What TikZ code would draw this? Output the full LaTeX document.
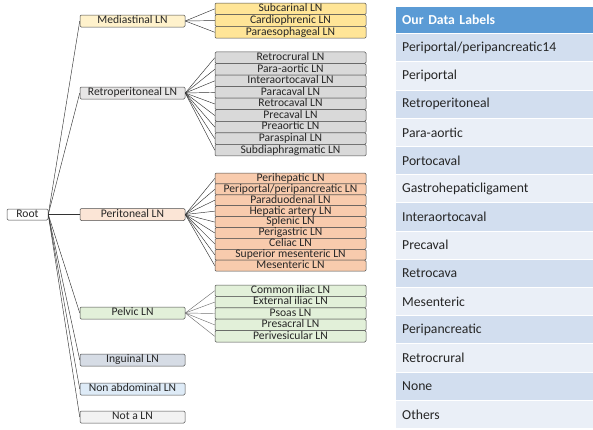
\documentclass[tikz,border=0pt]{standalone}
\usepackage{fontspec}
\setmainfont{Carlito}
\usetikzlibrary{positioning}
\definecolor{yellowA}{HTML}{FFF2CC}
\definecolor{yellowB}{HTML}{FFE597}
\definecolor{grayA}{HTML}{E7E6E6}
\definecolor{grayB}{HTML}{D9D9D9}
\definecolor{peachA}{HTML}{FBE5D6}
\definecolor{peachB}{HTML}{F8CBAD}
\definecolor{greenA}{HTML}{E2F0D9}
\definecolor{blueA}{HTML}{D6DCE5}
\definecolor{skyA}{HTML}{DEEBF7}
\definecolor{whiteA}{HTML}{F2F2F2}
\definecolor{headblue}{HTML}{5B9BD5}
\definecolor{tabA}{HTML}{D2DEEF}
\definecolor{tabB}{HTML}{EAEFF7}
\definecolor{ink}{HTML}{262626}

\begin{document}
\begin{tikzpicture}[x=1pt, y=-1pt,
  every box/.style={draw=black!70, line width=0.5pt, rounded corners=1.2pt, inner sep=0pt, text=ink, text height=7.8pt, text depth=2.1pt, font=\fontsize{11.6}{12}\selectfont},
  group/.style={every box, minimum width=105pt, minimum height=12pt},
  leaf/.style={every box, minimum width=151pt},
  link/.style={black!80, line width=0.45pt},
  row/.style={anchor=north west, inner xsep=6pt, inner ysep=0pt, text width=185pt, minimum height=27.2pt, text=ink, font=\fontsize{13.7}{15}\selectfont}]

\useasboundingbox (0,0) rectangle (593,429);

\node [every box, minimum width=41pt, minimum height=11pt, fill=white] (root) at (27.5,214.5) {Root};

\foreach \m/\y/\c/\l in {med/21/yellowA/Mediastinal LN, ret/93/grayA/Retroperitoneal LN, per/214.5/peachA/Peritoneal LN, pel/313/greenA/Pelvic LN, ing/360/blueA/Inguinal LN, non/389/skyA/Non abdominal LN, not/417/whiteA/Not a LN}
  \node [group, fill=\c] (\m) at (132.5,\y) {\l};

\foreach \m in {med,ret,per,pel,ing,non,not}
  \draw [link] (root.east) -- (\m.west);

\foreach \l [count=\i] in {Subcarinal LN, Cardiophrenic LN, Paraesophageal LN}
  \node [leaf, fill=yellowB, minimum height=11.7pt] (med-\i) at (290.5,{-2.85+\i*11.7}) {\l};

\foreach \l [count=\i] in {Retrocrural LN, Para-aortic LN, Interaortocaval LN, Paracaval LN, Retrocaval LN, Precaval LN, Preaortic LN, Paraspinal LN, Subdiaphragmatic LN}
  \node [leaf, fill=grayB, minimum height=11.55pt] (ret-\i) at (290.5,{46.2+\i*11.55}) {\l};

\foreach \l [count=\i] in {Perihepatic LN, Periportal/peripancreatic LN, Paraduodenal LN, Hepatic artery LN, Splenic LN, Perigastric LN, Celiac LN, Superior mesenteric LN, Mesenteric LN}
  \node [leaf, fill=peachB, minimum height=10.9pt] (per-\i) at (290.5,{167.55+\i*10.9}) {\l};

\foreach \l [count=\i] in {Common iliac LN, External iliac LN, Psoas LN, Presacral LN, Perivesicular LN}
  \node [leaf, fill=greenA, minimum height=11.4pt] (pel-\i) at (290.5,{279.3+\i*11.4}) {\l};

\foreach \i in {1,...,3}
  \draw [link] (med.east) -- (med-\i.west);
\foreach \i in {1,...,9}
  \draw [link] (ret.east) -- (ret-\i.west);
\foreach \i in {1,...,9}
  \draw [link] (per.east) -- (per-\i.west);
\foreach \i in {1,...,5}
  \draw [link, black!55] (pel.east) -- (pel-\i.west);

\node [row, fill=headblue, text=white, minimum height=26pt, font=\fontsize{13.7}{15}\selectfont\bfseries] (head) at (396,7) {Our Data Labels};

\foreach \l [count=\i] in {Periportal/peripancreatic14, Periportal, Retroperitoneal, Para-aortic, Portocaval, Gastrohepaticligament, Interaortocaval, Precaval, Retrocava, Mesenteric, Peripancreatic, Retrocrural, None, Others} {
  \ifodd\i \def\c{tabA}\else \def\c{tabB}\fi
  \node [row, fill=\c] (lab-\i) at (396,{34+(\i-1)*28.2}) {\l};
}
\end{tikzpicture}
\end{document}
